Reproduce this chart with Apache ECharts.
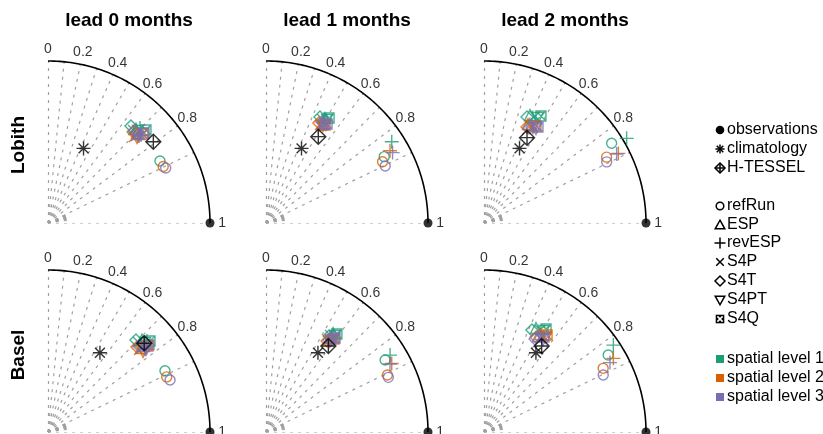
<!DOCTYPE html>
<html><head><meta charset="utf-8">
<script src="https://cdn.jsdelivr.net/npm/echarts@6/dist/echarts.min.js"></script>
<style>html,body{margin:0;padding:0;background:#fff}#c{width:823px;height:434px}</style>
</head><body><div id="c"></div>
<script>
// ---------------- data ----------------
const leads = ['lead 0 months', 'lead 1 months', 'lead 2 months'];
const stations = ['Lobith', 'Basel'];
const corrTicks = [0, 0.2, 0.4, 0.6, 0.8, 1];
const corrTickLabels = ['0', '0.2', '0.4', '0.6', '0.8', '1'];
const corrGridLines = [0, 0.1, 0.2, 0.3, 0.4, 0.5, 0.6, 0.7, 0.8, 0.9, 1];
const corrGridFine = [0.91, 0.92, 0.93, 0.94, 0.95, 0.96, 0.97, 0.98, 0.99];
const levels = ['spatial level 1', 'spatial level 2', 'spatial level 3'];
const levelColors = ['#1b9e77', '#d95f02', '#7570b3'];
const models = ['refRun', 'ESP', 'revESP', 'S4P', 'S4T', 'S4PT', 'S4Q'];
// panel order: Lobith lead0, lead1, lead2, Basel lead0, lead1, lead2
// values: [normalised standard deviation, correlation]
const observations = [1, 1];
const climatology = [[0.51, 0.43], [0.51, 0.43], [0.51, 0.43], [0.585, 0.548], [0.585, 0.548], [0.585, 0.548]];
const hTessel = [[0.821, 0.792], [0.623, 0.518], [0.59, 0.45], [0.808, 0.735], [0.656, 0.587], [0.639, 0.557]];
// each panel: [level1, level2, level3]
const refRun = [
  [[0.790, 0.875], [0.792, 0.898], [0.802, 0.906]],
  [[0.837, 0.872], [0.813, 0.885], [0.816, 0.902]],
  [[0.929, 0.848], [0.859, 0.881], [0.846, 0.895]],
  [[0.815, 0.886], [0.808, 0.907], [0.819, 0.920]],
  [[0.859, 0.856], [0.828, 0.905], [0.827, 0.913]],
  [[0.902, 0.850], [0.834, 0.882], [0.816, 0.902]]
];
const ESP = [
  [[0.795, 0.683], [0.781, 0.703], [0.786, 0.715]],
  [[0.743, 0.490], [0.702, 0.493], [0.713, 0.502]],
  [[0.725, 0.392], [0.669, 0.406], [0.671, 0.432]],
  [[0.812, 0.714], [0.774, 0.742], [0.796, 0.745]],
  [[0.738, 0.561], [0.702, 0.563], [0.714, 0.570]],
  [[0.718, 0.447], [0.697, 0.496], [0.680, 0.490]]
];
const revESP = [
  [[0.816, 0.696], [0.777, 0.723], [0.790, 0.727]],
  [[0.924, 0.840], [0.886, 0.864], [0.894, 0.874]],
  [[1.024, 0.860], [0.934, 0.888], [0.923, 0.887]],
  [[0.830, 0.736], [0.788, 0.760], [0.801, 0.755]],
  [[0.901, 0.850], [0.884, 0.878], [0.873, 0.877]],
  [[0.962, 0.830], [0.919, 0.869], [0.888, 0.876]]
];
const S4P = [
  [[0.778, 0.675], [0.751, 0.707], [0.764, 0.711]],
  [[0.729, 0.475], [0.691, 0.482], [0.705, 0.499]],
  [[0.731, 0.431], [0.663, 0.428], [0.671, 0.451]],
  [[0.786, 0.707], [0.756, 0.743], [0.774, 0.742]],
  [[0.717, 0.551], [0.685, 0.559], [0.697, 0.567]],
  [[0.719, 0.481], [0.693, 0.517], [0.675, 0.512]]
];
const S4T = [
  [[0.788, 0.650], [0.769, 0.683], [0.778, 0.683]],
  [[0.734, 0.454], [0.698, 0.468], [0.713, 0.485]],
  [[0.706, 0.376], [0.649, 0.409], [0.649, 0.428]],
  [[0.786, 0.691], [0.760, 0.723], [0.773, 0.727]],
  [[0.709, 0.549], [0.677, 0.557], [0.688, 0.565]],
  [[0.696, 0.425], [0.668, 0.481], [0.655, 0.481]]
];
const S4PT = [
  [[0.795, 0.699], [0.760, 0.723], [0.773, 0.719]],
  [[0.739, 0.510], [0.695, 0.506], [0.709, 0.522]],
  [[0.729, 0.457], [0.660, 0.458], [0.663, 0.484]],
  [[0.813, 0.737], [0.767, 0.765], [0.789, 0.767]],
  [[0.730, 0.584], [0.690, 0.581], [0.703, 0.589]],
  [[0.725, 0.511], [0.695, 0.551], [0.675, 0.540]]
];
const S4Q = [
  [[0.834, 0.725], [0.803, 0.730], [0.813, 0.729]],
  [[0.756, 0.515], [0.706, 0.516], [0.718, 0.525]],
  [[0.748, 0.470], [0.679, 0.472], [0.680, 0.490]],
  [[0.844, 0.746], [0.814, 0.758], [0.823, 0.757]],
  [[0.747, 0.586], [0.711, 0.591], [0.720, 0.592]],
  [[0.742, 0.516], [0.714, 0.545], [0.693, 0.534]]
];
const modelData = { refRun, ESP, revESP, S4P, S4T, S4PT, S4Q };

// ---------------- layout / style ----------------
const R = 162;
const originX = [48, 266, 484];
const originY = [223, 432];
const FONT = '"Liberation Sans", Arial, Helvetica, sans-serif';
const GRAY = '#a0a0a0';
const SYM = {
  refRun: { symbol: 'circle', size: 10 },
  ESP: { symbol: 'triangle', size: 11 },
  revESP: { symbol: 'path://M10,0L10,20M0,10L20,10', size: 14 },
  S4P: { symbol: 'path://M0,0L20,20M20,0L0,20', size: 10 },
  S4T: { symbol: 'diamond', size: 12 },
  S4PT: { symbol: 'path://M0,0L20,0L10,17.3Z', size: 11 },
  S4Q: { symbol: 'path://M0,0L20,0L20,20L0,20ZM0,0L20,20M20,0L0,20', size: 10 }
};
const HT_SYM = 'path://M10,0L20,10L10,20L0,10ZM10,0L10,20M0,10L20,10';
const AST_SYM = 'path://M10,0L10,20M0,10L20,10M2.93,2.93L17.07,17.07M17.07,2.93L2.93,17.07';

const toXY = (sd, r) => [sd * r, sd * Math.sqrt(Math.max(0, 1 - r * r))];

const grids = [], xAxes = [], yAxes = [], series = [];
for (let p = 0; p < 6; p++) {
  const row = Math.floor(p / 3), col = p % 3;
  const ox = originX[col], oy = originY[row];
  grids.push({ left: ox, top: oy - R, width: R, height: R });
  xAxes.push({ gridIndex: p, type: 'value', min: 0, max: 1, show: false });
  yAxes.push({ gridIndex: p, type: 'value', min: 0, max: 1, show: false });
  const ax = { xAxisIndex: p, yAxisIndex: p };

  // radial dashed lines
  const lineData = corrGridLines.map(c => ({ coords: [[0, 0], toXY(1, c)] }))
    .concat(corrGridFine.map(c => ({ coords: [[0, 0], toXY(0.12, c)] })));
  series.push(Object.assign({
    type: 'lines', coordinateSystem: 'cartesian2d', silent: true, z: 1,
    lineStyle: { color: GRAY, width: 1.2, type: [3, 5], opacity: 1 },
    data: lineData
  }, ax));

  // outer arc (axis)
  const arc = [];
  for (let a = 0; a <= 90; a += 1) arc.push([Math.cos(a * Math.PI / 180), Math.sin(a * Math.PI / 180)]);
  series.push(Object.assign({
    type: 'line', data: arc, showSymbol: false, silent: true, clip: false, z: 2,
    lineStyle: { color: '#000', width: 1.6 }
  }, ax));

  // tick labels
  series.push(Object.assign({
    type: 'scatter', silent: true, clip: false, symbolSize: 0, z: 3,
    data: corrTicks.map((c, i) => ({ value: toXY(1.075, c), name: corrTickLabels[i] })),
    label: { show: true, position: 'inside', formatter: '{b}', color: '#000', fontSize: 14, fontFamily: FONT }
  }, ax));

  // model markers per level
  for (let l = 0; l < 3; l++) {
    const data = models.map(m => {
      const v = modelData[m][p][l];
      return {
        value: toXY(v[0], v[1]), symbol: SYM[m].symbol, symbolSize: SYM[m].size
      };
    });
    series.push(Object.assign({
      type: 'scatter', silent: true, clip: false, z: 4 + l,
      itemStyle: { color: 'rgba(0,0,0,0)', borderColor: levelColors[l], borderWidth: 1.4 },
      data
    }, ax));
  }

  // climatology, H-TESSEL, observations
  series.push(Object.assign({
    type: 'scatter', silent: true, clip: false, z: 8,
    itemStyle: { color: 'rgba(0,0,0,0)', borderColor: '#000', borderWidth: 1.4 },
    data: [
      { value: toXY(climatology[p][0], climatology[p][1]), symbol: AST_SYM, symbolSize: 14 },
      { value: toXY(hTessel[p][0], hTessel[p][1]), symbol: HT_SYM, symbolSize: 15 }
    ]
  }, ax));
  series.push(Object.assign({
    type: 'scatter', silent: true, clip: false, z: 9,
    itemStyle: { color: '#000' }, symbol: 'circle', symbolSize: 9,
    data: [toXY(observations[0], observations[1])]
  }, ax));
}

// ---------------- titles, row labels, legend ----------------
const graphics = [];
leads.forEach((t, i) => graphics.push({
  type: 'text', x: originX[i] + R / 2, y: 21,
  style: { text: t, font: 'bold 19px ' + FONT, fill: '#000', textAlign: 'center', textVerticalAlign: 'middle' }
}));
stations.forEach((s, i) => graphics.push({
  type: 'text', x: 19, y: [145, 355][i], rotation: Math.PI / 2,
  style: { text: s, font: 'bold 19px ' + FONT, fill: '#000', textAlign: 'center', textVerticalAlign: 'middle' }
}));

const LX = 720, TX = 727;
const stroke = (c, w) => ({ stroke: c, lineWidth: w || 1.5, fill: null });
function legendSymbol(kind, cx, cy, color) {
  const h = 4.6, els = [];
  const ln = (x1, y1, x2, y2, c) => els.push({ type: 'line', shape: { x1, y1, x2, y2 }, style: stroke(c || color) });
  if (kind === 'obs') els.push({ type: 'circle', shape: { cx, cy, r: 4.3 }, style: { fill: color } });
  if (kind === 'clim') { ln(cx, cy - h, cx, cy + h); ln(cx - h, cy, cx + h, cy); ln(cx - 3.3, cy - 3.3, cx + 3.3, cy + 3.3); ln(cx + 3.3, cy - 3.3, cx - 3.3, cy + 3.3); }
  if (kind === 'ht') { els.push({ type: 'polygon', shape: { points: [[cx, cy - 5], [cx + 5, cy], [cx, cy + 5], [cx - 5, cy]] }, style: stroke(color) }); ln(cx, cy - 5, cx, cy + 5); ln(cx - 5, cy, cx + 5, cy); }
  if (kind === 'refRun') els.push({ type: 'circle', shape: { cx, cy, r: 3.8 }, style: stroke(color) });
  if (kind === 'ESP') els.push({ type: 'polygon', shape: { points: [[cx, cy - 4.8], [cx + 4.8, cy + 3.8], [cx - 4.8, cy + 3.8]] }, style: stroke(color) });
  if (kind === 'revESP') { ln(cx, cy - 5.5, cx, cy + 5.5); ln(cx - 5.5, cy, cx + 5.5, cy); }
  if (kind === 'S4P') { ln(cx - 3.8, cy - 3.8, cx + 3.8, cy + 3.8); ln(cx + 3.8, cy - 3.8, cx - 3.8, cy + 3.8); }
  if (kind === 'S4T') els.push({ type: 'polygon', shape: { points: [[cx, cy - 5], [cx + 5, cy], [cx, cy + 5], [cx - 5, cy]] }, style: stroke(color) });
  if (kind === 'S4PT') els.push({ type: 'polygon', shape: { points: [[cx - 4.8, cy - 3.8], [cx + 4.8, cy - 3.8], [cx, cy + 4.8]] }, style: stroke(color) });
  if (kind === 'S4Q') { els.push({ type: 'rect', shape: { x: cx - 4.3, y: cy - 4.3, width: 8.6, height: 8.6 }, style: { fill: '#000' } }); ln(cx - 2.6, cy - 2.6, cx + 2.6, cy + 2.6, '#fff'); ln(cx + 2.6, cy - 2.6, cx - 2.6, cy + 2.6, '#fff'); }
  if (kind === 'level') els.push({ type: 'rect', shape: { x: cx - 4, y: cy - 4, width: 8, height: 8 }, style: { fill: color } });
  return els;
}
const legendItems = [
  ['obs', 'observations', 130, '#000'],
  ['clim', 'climatology', 149, '#000'],
  ['ht', 'H-TESSEL', 168, '#000'],
  ['refRun', models[0], 206, '#000'],
  ['ESP', models[1], 225, '#000'],
  ['revESP', models[2], 243, '#000'],
  ['S4P', models[3], 262, '#000'],
  ['S4T', models[4], 281, '#000'],
  ['S4PT', models[5], 300, '#000'],
  ['S4Q', models[6], 319, '#000'],
  ['level', levels[0], 359, levelColors[0]],
  ['level', levels[1], 378, levelColors[1]],
  ['level', levels[2], 397, levelColors[2]]
];
legendItems.forEach(([kind, label, y, color]) => {
  legendSymbol(kind, LX, y, color).forEach(e => graphics.push(e));
  graphics.push({
    type: 'text', x: TX, y: y,
    style: { text: label, font: '16px ' + FONT, fill: '#000', textAlign: 'left', textVerticalAlign: 'middle' }
  });
});

const chart = echarts.init(document.getElementById('c'), null, { renderer: 'canvas' });
chart.setOption({
  animation: false,
  backgroundColor: '#fff',
  grid: grids, xAxis: xAxes, yAxis: yAxes,
  series: series,
  graphic: { elements: graphics }
});
</script></body></html>
